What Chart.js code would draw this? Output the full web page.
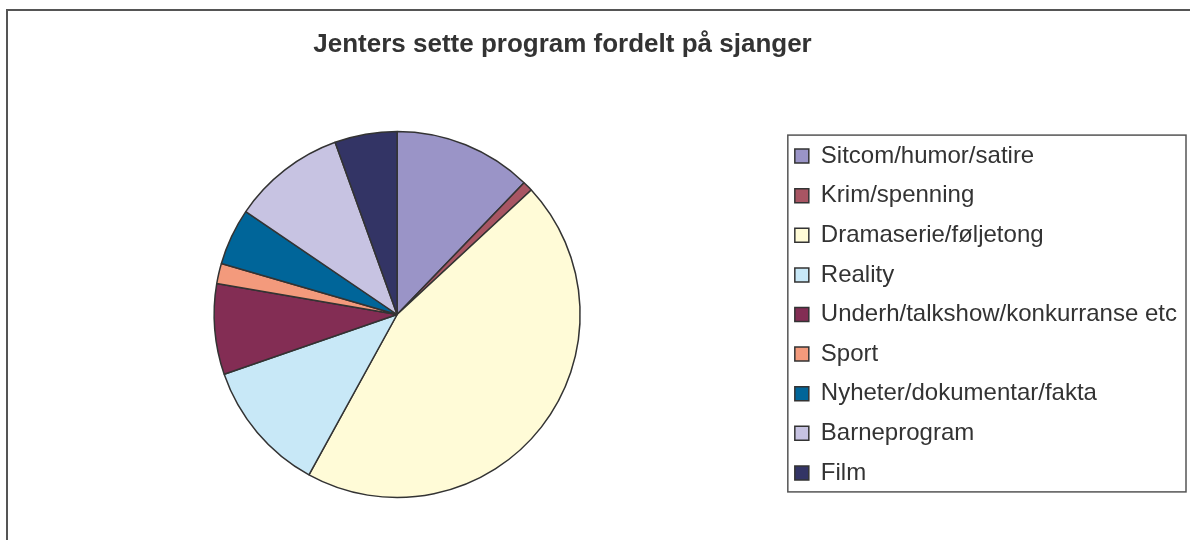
<!DOCTYPE html>
<html>
<head>
<meta charset="utf-8">
<script src="https://cdn.jsdelivr.net/npm/chart.js@4/dist/chart.umd.min.js"></script>
<style>
  html, body { margin: 0; padding: 0; background: #fff; overflow: hidden; width: 1190px; height: 540px; }
  #frame { position: absolute; left: 6px; top: 9px; width: 1400px; height: 800px; border: 2px solid #555; }
  #title {
    position: absolute; left: 0; top: 28px; width: 1125px; text-align: center;
    font: bold 26px/30px 'Liberation Sans', Arial, Helvetica, sans-serif; color: #333;
  }
  #wrap { position: absolute; left: 0; top: 0; }
</style>
</head>
<body>
<div id="frame"></div>
<div id="wrap"><canvas id="pie" width="1190" height="560" style="width:1190px;height:560px"></canvas></div>
<div id="title"></div>
<script>
const genres = [
  "Sitcom/humor/satire",
  "Krim/spenning",
  "Dramaserie/føljetong",
  "Reality",
  "Underh/talkshow/konkurranse etc",
  "Sport",
  "Nyheter/dokumentar/fakta",
  "Barneprogram",
  "Film",
];

const shares = [12.2, 0.9, 44.9, 11.7, 8.0, 1.8, 5.0, 10.0, 5.5];

const sliceColors = [
  "#9A94C7",
  "#A85563",
  "#FFFBD7",
  "#C8E8F7",
  "#832D54",
  "#F39A7C",
  "#006599",
  "#C7C3E2",
  "#333465",
];

const chartTitle = "Jenters sette program fordelt på sjanger";
const fontFamily = "'Liberation Sans', Arial, Helvetica, sans-serif";

document.getElementById("title").textContent = chartTitle;

// box drawn round the legend items
const legendFrame = {
  id: "legendFrame",
  afterDraw(chart) {
    const boxes = chart.legend.legendHitBoxes;
    if (!boxes || !boxes.length) return;
    const first = boxes[0];
    const last = boxes[boxes.length - 1];
    let right = 0;
    boxes.forEach((b) => (right = Math.max(right, b.left + b.width)));
    const ctx = chart.ctx;
    ctx.save();
    ctx.strokeStyle = "#555";
    ctx.lineWidth = 1.5;
    const x = first.left - 7;
    const y = first.top - 9;
    ctx.strokeRect(x, y, right + 9 - x, last.top + last.height + 7 - y);
    ctx.restore();
  },
};

new Chart(document.getElementById("pie"), {
  type: "pie",
  plugins: [legendFrame],
  data: {
    labels: genres,
    datasets: [
      {
        data: shares,
        backgroundColor: sliceColors,
        borderColor: "#333",
        borderWidth: 1.5,
      },
    ],
  },
  options: {
    responsive: false,
    animation: false,
    devicePixelRatio: 1,
    radius: 183,
    layout: { padding: { left: 15, right: 3, top: 80, bottom: 11 } },
    plugins: {
      tooltip: { enabled: false },
      title: { display: false },
      legend: {
        position: "right",
        fullSize: false,
        labels: {
          boxWidth: 14,
          boxHeight: 14,
          padding: 15.6,
          color: "#333",
          font: { family: fontFamily, size: 24 },
        },
      },
    },
  },
});
</script>
</body>
</html>
